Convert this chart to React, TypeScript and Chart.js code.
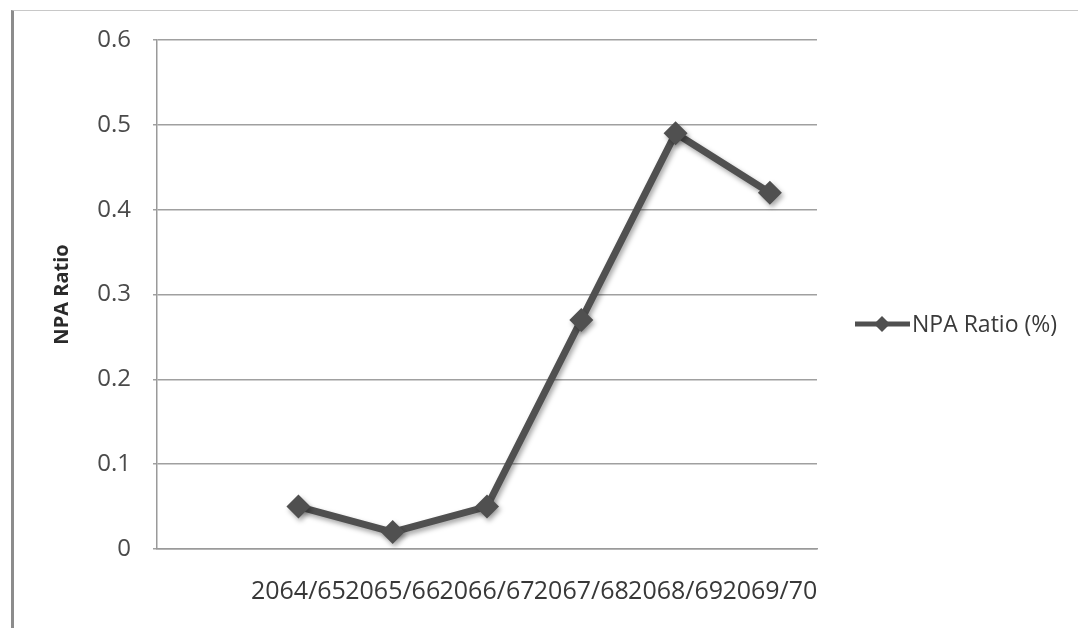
import React, { useEffect, useRef } from "react";
import { Chart, registerables } from "chart.js";

Chart.register(...registerables);

const categories: string[] = ["", "2064/65", "2065/66", "2066/67", "2067/68", "2068/69", "2069/70"];
const npaRatio: (number | null)[] = [null, 0.05, 0.02, 0.05, 0.27, 0.49, 0.42];
const seriesLabel = "NPA Ratio (%)";
const yAxisTitle = "NPA Ratio";

const LINE_COLOR = "#505050";
const FONT = "'Open Sans', 'DejaVu Sans', sans-serif";

const shadowPlugin = {
  id: "shadowPlugin",
  beforeDatasetsDraw(chart: any) {
    const ctx = chart.ctx;
    ctx.save();
    ctx.shadowColor = "rgba(0,0,0,0.35)";
    ctx.shadowBlur = 5;
    ctx.shadowOffsetX = 2;
    ctx.shadowOffsetY = 3;
  },
  afterDatasetsDraw(chart: any) {
    chart.ctx.restore();
  },
};

const legendPlugin = {
  id: "customLegend",
  afterDraw(chart: any) {
    const ctx = chart.ctx;
    const y = 324;
    ctx.save();
    ctx.strokeStyle = LINE_COLOR;
    ctx.lineWidth = 5;
    ctx.beginPath();
    ctx.moveTo(855, y);
    ctx.lineTo(910, y);
    ctx.stroke();
    ctx.fillStyle = LINE_COLOR;
    ctx.beginPath();
    ctx.moveTo(882, y - 8);
    ctx.lineTo(890, y);
    ctx.lineTo(882, y + 8);
    ctx.lineTo(874, y);
    ctx.closePath();
    ctx.fill();
    ctx.fillStyle = "#3a3a3a";
    ctx.font = `23px ${FONT}`;
    ctx.textAlign = "left";
    ctx.textBaseline = "middle";
    ctx.fillText(seriesLabel, 912, y + 1);
    ctx.restore();
  },
};

export default function App() {
  const canvasRef = useRef<HTMLCanvasElement | null>(null);

  useEffect(() => {
    if (!canvasRef.current) return;
    const chart = new Chart(canvasRef.current, {
      type: "line",
      data: {
        labels: categories,
        datasets: [
          {
            label: seriesLabel,
            data: npaRatio,
            borderColor: LINE_COLOR,
            backgroundColor: LINE_COLOR,
            borderWidth: 7,
            pointStyle: "rectRot",
            pointRadius: 12,
            pointBorderWidth: 0,
            pointBackgroundColor: LINE_COLOR,
            tension: 0,
            spanGaps: false,
          },
        ],
      },
      plugins: [shadowPlugin, legendPlugin],
      options: {
        responsive: false,
        animation: false,
        layout: { padding: { left: 14, top: 40, right: 261, bottom: 0 } },
        plugins: {
          legend: { display: false },
          tooltip: { enabled: false },
        },
        scales: {
          x: {
            type: "category",
            offset: true,
            grid: { display: false, drawTicks: false },
            border: { display: true, color: "#9a9a9a", width: 1.5 },
            ticks: {
              autoSkip: false,
              maxRotation: 0,
              minRotation: 0,
              padding: 28,
              color: "#383838",
              font: { family: FONT, size: 25 },
            },
            afterFit(scale: any) {
              scale.height = 79;
            },
          },
          y: {
            min: 0,
            max: 0.6,
            ticks: {
              stepSize: 0.1,
              padding: 22,
              color: "#4a4a4a",
              font: { family: FONT, size: 24 },
              callback: (v: any) => String(Math.round(Number(v) * 10) / 10),
            },
            grid: {
              color: "#a0a0a0",
              lineWidth: 1.5,
              drawTicks: true,
              tickLength: 4,
            },
            border: { display: true, color: "#9a9a9a", width: 1.5 },
            title: {
              display: true,
              text: yAxisTitle,
              color: "#2a2a2a",
              font: { family: FONT, size: 20, weight: "bold" },
              padding: { top: 36, bottom: 0 },
            },
            afterFit(scale: any) {
              scale.width = 143;
            },
          },
        },
      },
    } as any);
    return () => chart.destroy();
  }, []);

  return (
    <div style={{ position: "fixed", left: 0, top: 0, width: 1078, height: 628, background: "#ffffff" }}>
      <div
        style={{
          position: "absolute",
          left: 11,
          top: 10,
          right: 0,
          bottom: 0,
          borderLeft: "3px solid #8c8c8c",
          borderTop: "1px solid #c8c8c8",
        }}
      />
      <canvas ref={canvasRef} width={1078} height={628} style={{ position: "absolute", left: 0, top: 0 }} />
    </div>
  );
}
